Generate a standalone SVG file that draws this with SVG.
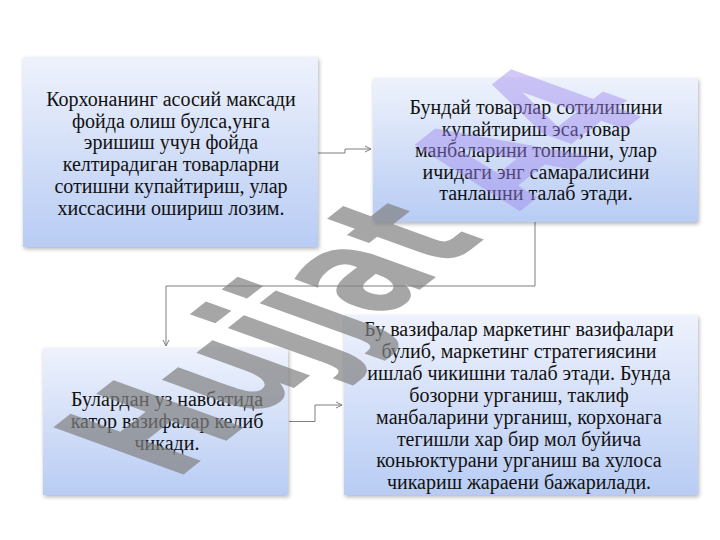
<svg xmlns="http://www.w3.org/2000/svg" width="720" height="540" viewBox="0 0 720 540">
<defs>
<linearGradient id="bg" x1="0" y1="0" x2="0" y2="1"><stop offset="0" stop-color="#eef2fc"/><stop offset="1" stop-color="#b8ccf4"/></linearGradient>
<filter id="sh" x="-5%" y="-5%" width="115%" height="115%"><feGaussianBlur in="SourceAlpha" stdDeviation="2"/><feOffset dx="1" dy="2"/><feComponentTransfer><feFuncA type="linear" slope="0.3"/></feComponentTransfer><feMerge><feMergeNode/><feMergeNode in="SourceGraphic"/></feMerge></filter>
<marker id="ah" markerWidth="8" markerHeight="8" refX="7" refY="4" orient="auto" markerUnits="userSpaceOnUse"><path d="M1,1 L7,4 L1,7" fill="none" stroke="#7f7f7f" stroke-width="1"/></marker>
</defs>
<style>
.box{fill:url(#bg);filter:url(#sh)}
.t{font-family:"Liberation Serif","DejaVu Serif",serif;font-size:20px;fill:#111;text-anchor:middle}
.c{fill:none;stroke:#7f7f7f;stroke-width:1;marker-end:url(#ah)}
.wm{font-family:"DejaVu Sans",sans-serif;font-weight:bold;font-size:100px}
</style>
<rect width="720" height="540" fill="#fff"/>
<g id="connectors">
<path class="c" d="M318,153 H345 V149 H371"/>
<path class="c" d="M535,222 V286 H166 V346"/>
<path class="c" d="M289,421.5 H315 V405 H342"/>
</g>
<g id="n1">
<rect class="box" x="23" y="57" width="295" height="190"/>
<text class="t" x="171" y="106"><tspan x="171">Корхонанинг асосий максади</tspan><tspan x="171" dy="21.7">фойда олиш булса,унга</tspan><tspan x="171" dy="21.7">эришиш учун фойда</tspan><tspan x="171" dy="21.7">келтирадиган товарларни</tspan><tspan x="171" dy="21.7">сотишни купайтириш, улар</tspan><tspan x="171" dy="21.7">хиссасини ошириш лозим.</tspan></text>
</g>
<g id="n2">
<rect class="box" x="373" y="78" width="325" height="144"/>
<text class="t" x="536" y="114"><tspan x="536">Бундай товарлар сотилишини</tspan><tspan x="536" dy="21.5">купайтириш эса,товар</tspan><tspan x="536" dy="21.5">манбаларини топишни, улар</tspan><tspan x="536" dy="21.5">ичидаги энг самаралисини</tspan><tspan x="536" dy="21.5">танлашни талаб этади.</tspan></text>
</g>
<g id="n3">
<rect class="box" x="43" y="348" width="245" height="147"/>
<text class="t" x="167" y="406"><tspan x="167">Булардан уз навбатида</tspan><tspan x="167" dy="22">катор вазифалар келиб</tspan><tspan x="167" dy="22">чикади.</tspan></text>
</g>
<g id="n4">
<rect class="box" x="344" y="315" width="354" height="180"/>
<text class="t" x="519" y="336"><tspan x="519">Бу вазифалар маркетинг вазифалари</tspan><tspan x="519" dy="21.9">булиб, маркетинг стратегиясини</tspan><tspan x="519" dy="21.9">ишлаб чикишни талаб этади. Бунда</tspan><tspan x="519" dy="21.9">бозорни урганиш, таклиф</tspan><tspan x="519" dy="21.9">манбаларини урганиш, корхонага</tspan><tspan x="519" dy="21.9">тегишли хар бир мол буйича</tspan><tspan x="519" dy="21.9">коньюктурани  урганиш ва хулоса</tspan><tspan x="519" dy="21.9">чикариш жараени бажарилади.</tspan></text>
</g>
<g id="watermark">
<text class="wm" transform="matrix(0.922 -0.721 1.786 0.646 175 481)"><tspan fill="#808080" fill-opacity="0.7">Hujjat</tspan><tspan dx="35" fill="#9d87ee" fill-opacity="0.45">A4</tspan></text>
</g>
</svg>
